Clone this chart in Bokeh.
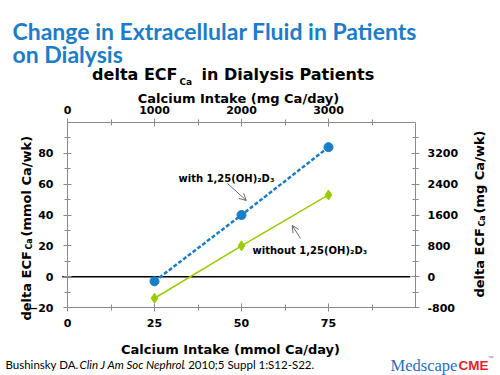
from bokeh.plotting import figure
from bokeh.models import LinearAxis, FixedTicker, Label, Arrow, OpenHead, Range1d
from bokeh.embed import file_html
from bokeh.resources import INLINE
import math

# ---- data ----
mmol_intake = [25, 50, 75]
with_d3 = [-3, 40, 84]
without_d3 = [-14, 20, 53]

x_major = [0, 25, 50, 75]
x_minor = [12.5, 37.5, 62.5, 87.5]
top_tick_labels = {0: "0", 25: "1000", 50: "2000", 75: "3000"}
y_major = [-20, 0, 20, 40, 60, 80]
y_minor = [-10, 10, 30, 50, 70, 90]
right_tick_labels = {-20: "-800", 0: "0", 20: "800", 40: "1600", 60: "2400", 80: "3200"}

X_LIM = (0, 100)
Y_LIM = (-20, 100)

BLUE = "#1a7dc6"
GREEN = "#99cc00"
TITLE_BLUE = "#1b7dc8"
AX = "#8a8a8a"
DJ = "DejaVu Sans"
W, H = 500, 375
# plot box in canvas pixels (left, right, top, bottom)
BL, BR, BT, BB = 67, 415, 122, 307

sx = (BR - BL) / (X_LIM[1] - X_LIM[0])
sy = (BB - BT) / (Y_LIM[1] - Y_LIM[0])
x_range = Range1d(X_LIM[0] - BL / sx, X_LIM[1] + (W - BR) / sx)
y_range = Range1d(Y_LIM[0] - (H - BB) / sy, Y_LIM[1] + BT / sy)

p = figure(width=W, height=H, x_range=x_range, y_range=y_range,
           output_backend="svg", toolbar_location=None,
           x_axis_location=None, y_axis_location=None,
           min_border=0, min_border_left=0, min_border_right=0,
           min_border_top=0, min_border_bottom=0)
p.grid.visible = False
p.outline_line_color = None
p.background_fill_color = "white"
p.border_fill_color = "white"


def make_axis(loc, ticks, minor, overrides, standoff, bounds):
    ax = LinearAxis(ticker=FixedTicker(ticks=ticks, minor_ticks=minor),
                    fixed_location=loc, bounds=bounds)
    if overrides:
        ax.major_label_overrides = overrides
    ax.axis_line_color = AX
    ax.major_tick_line_color = AX
    ax.minor_tick_line_color = AX
    ax.major_tick_in = 4
    ax.major_tick_out = 4
    ax.minor_tick_in = 3
    ax.minor_tick_out = 3
    ax.major_label_text_font = DJ
    ax.major_label_text_font_style = "bold"
    ax.major_label_text_font_size = "11px"
    ax.major_label_text_color = "black"
    ax.major_label_standoff = standoff
    return ax


p.add_layout(make_axis(Y_LIM[0], x_major, x_minor, None, 7, X_LIM), "below")
p.add_layout(make_axis(Y_LIM[1], x_major, x_minor, top_tick_labels, 5, X_LIM), "above")
p.add_layout(make_axis(X_LIM[0], y_major, y_minor, None, 10, Y_LIM), "left")
p.add_layout(make_axis(X_LIM[1], y_major, y_minor, right_tick_labels, 8, Y_LIM), "right")

# zero reference line
p.segment(x0=[X_LIM[0] - 1.5], y0=[0], x1=[X_LIM[1] - 1.5], y1=[0], line_color="black", line_width=1.5)

p.line(mmol_intake, with_d3, line_color=BLUE, line_width=2.5, line_dash="4 2")
p.scatter(mmol_intake, with_d3, marker="circle", size=9, fill_color=BLUE, line_color=BLUE)
p.line(mmol_intake, without_d3, line_color=GREEN, line_width=1.5)
p.scatter(mmol_intake, without_d3, marker="diamond", size=10, fill_color=GREEN, line_color=GREEN)

for xs, ys, xe, ye in [(45.98, 60.45, 51.4, 49.4), (66.95, 24.8, 64.57, 33.2)]:
    p.add_layout(Arrow(end=OpenHead(size=7, line_width=0.8, line_color="#444444"),
                       x_start=xs, y_start=ys, x_end=xe, y_end=ye,
                       line_width=0.8, line_color="#444444"))


def txt(x, y, text, size, font=DJ, style="bold", color="black", align="left", angle=0.0):
    # x, y in canvas pixels from top-left; frame == canvas, screen origin bottom-left
    p.add_layout(Label(x=x, y=H - y, x_units="screen", y_units="screen", text=text,
                       text_font=font, text_font_size=f"{size}px", text_font_style=style,
                       text_color=color, text_align=align, text_baseline="alphabetic",
                       angle=angle))


# main heading
txt(12, 30, "Change in Extracellular Fluid in Patients", 23, font="Lato", color=TITLE_BLUE)
txt(12, 53, "on Dialysis", 23, font="Lato", color=TITLE_BLUE)

# chart title
txt(177, 73.5, "delta ECF", 16, align="right")
txt(179, 81, "Ca", 9)
txt(201, 73.5, "in Dialysis Patients", 16)

# axis titles
txt(238, 98, "Calcium Intake (mg Ca/day)", 13, align="center")
txt(230, 348.5, "Calcium Intake (mmol Ca/day)", 13, align="center")

A = math.pi / 2
txt(25.5, 320, "delta ECF", 13, angle=A)
txt(28.5, 249, "Ca", 8, angle=A)
txt(25.5, 236, "(mmol Ca/wk)", 13, angle=A)
txt(478.5, 297, "delta ECF", 13, angle=A)
txt(481.5, 226, "Ca", 8, angle=A)
txt(478.5, 213, "(mg Ca/wk)", 13, angle=A)

# annotations
txt(178, 177.5, "with 1,25(OH)\u2082D\u2083", 10)
txt(252, 249.5, "without 1,25(OH)\u2082D\u2083", 10)

# footer
txt(5, 363.5, "Bushinsky DA.", 11.5, font="Lato", style="normal")
txt(79, 363.5, "Clin J Am Soc Nephrol", 11.5, font="Lato", style="italic")
txt(182, 363.5, ". 2010;5 Suppl 1:S12-S22.", 11.5, font="Lato", style="normal")

# logo
txt(390, 365, "Medscape", 16.5, font="Liberation Serif", style="normal", color="#1f6fc0")
txt(458, 365, "CME", 13.5, font="Liberation Sans", style="bold", color="#e3232b")
txt(487, 357, "\u2122", 6, font="Liberation Sans", style="normal", color="#888888")

open("out.html", "w").write(file_html(p, INLINE))
